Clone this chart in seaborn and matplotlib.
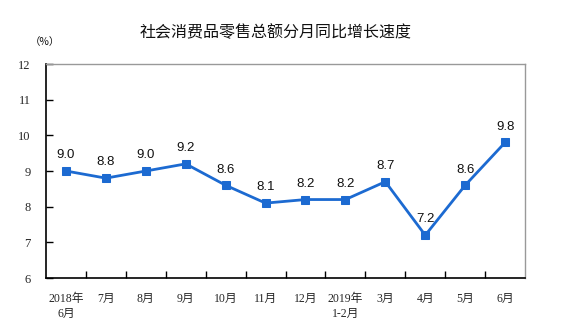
import matplotlib
matplotlib.use("Agg")
import matplotlib.pyplot as plt
import seaborn as sns
import pandas as pd

# Monthly year-on-year growth of total retail sales of consumer goods (%)
months = ["2018年\n6月", "7月", "8月", "9月", "10月", "11月", "12月",
          "2019年\n1-2月", "3月", "4月", "5月", "6月"]
growth = [9.0, 8.8, 9.0, 9.2, 8.6, 8.1, 8.2, 8.2, 8.7, 7.2, 8.6, 9.8]
y_ticks = [6, 7, 8, 9, 10, 11, 12]
title = "社会消费品零售总额分月同比增长速度"
unit = "（%）"

sns.set_theme(style="white")
plt.rcParams["font.family"] = ["Liberation Serif", "Noto Sans CJK SC"]

df = pd.DataFrame({"pos": range(len(months)), "growth": growth})

fig = plt.figure(figsize=(5.78, 3.36), dpi=100)
ax = fig.add_axes([0.0796, 0.1726, 0.8288, 0.6369])

line_color = "#1c6ad1"
sns.lineplot(data=df, x="pos", y="growth", ax=ax, color=line_color,
             linewidth=2.0, marker="s", markersize=5.5,
             markeredgecolor=line_color, markerfacecolor=line_color)

for x, v in zip(df["pos"], df["growth"]):
    ax.annotate(f"{v:.1f}", (x, v), xytext=(0, 7), textcoords="offset points",
                ha="center", va="bottom", fontsize=9.5,
                family=["Liberation Sans", "DejaVu Sans"], color="#111111")

ax.set_xlim(-0.5, len(months) - 0.5)
ax.set_ylim(6, 12)
ax.set_yticks(y_ticks)
ax.set_yticklabels([str(t) for t in y_ticks], fontsize=9)

# major ticks at category boundaries, labels at category centres
ax.set_xticks([i + 0.5 for i in range(len(months) - 1)])
ax.set_xticklabels([])
ax.set_xticks(list(range(len(months))), minor=True)
ax.set_xticklabels(months, minor=True, fontsize=8.5, linespacing=1.35, va="top")
ax.tick_params(axis="x", which="major", direction="in", length=5, width=1,
               color="black", bottom=True)
ax.tick_params(axis="x", which="minor", length=0, pad=11, bottom=True)
ax.tick_params(axis="y", direction="in", length=5, width=1, color="black",
               left=True, pad=11)

ax.set_xlabel("")
ax.set_ylabel("")

for side in ["left", "bottom"]:
    ax.spines[side].set_color("black")
    ax.spines[side].set_linewidth(1.2)
for side in ["top", "right"]:
    ax.spines[side].set_color("#999999")
    ax.spines[side].set_linewidth(1.0)

fig.text(0.477, 0.902, title, ha="center", va="center", fontsize=11.5,
         family=["Noto Sans CJK SC"], color="#111111")
fig.text(0.078, 0.875, unit, ha="center", va="center", fontsize=7.5,
         family=["Noto Sans CJK SC"], color="#111111")

fig.savefig("out.png", dpi=100)
